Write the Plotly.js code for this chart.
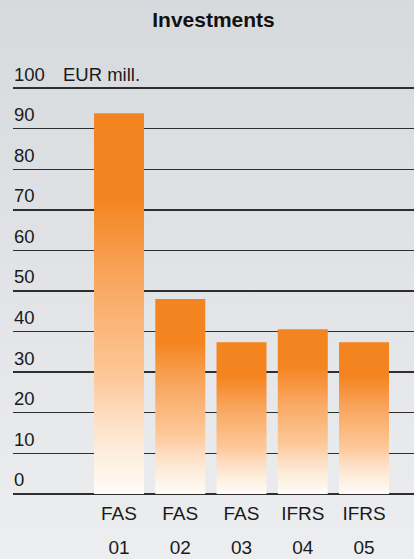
<!DOCTYPE html>
<html>
<head>
<meta charset="utf-8">
<script src="https://cdn.plot.ly/plotly-3.0.1.min.js"></script>
<style>
  html, body { margin: 0; padding: 0; }
  body { width: 414px; height: 559px; background: linear-gradient(to bottom, #d7dadd 0%, #e2e4e7 55%, #eceef0 100%); overflow: hidden; }
  #chart { width: 414px; height: 559px; }
</style>
</head>
<body>
<div id="chart"></div>
<script>
// Data
const categoryTop = ["FAS", "FAS", "FAS", "IFRS", "IFRS"];
const categoryBottom = ["01", "02", "03", "04", "05"];
const investments = [93.8, 48.0, 37.4, 40.6, 37.4];
const yTickValues = [0, 10, 20, 30, 40, 50, 60, 70, 80, 90, 100];
const yTickLabels = ["0", "10", "20", "30", "40", "50", "60", "70", "80", "90", "100"];
const unitLabel = "EUR mill.";
const chartTitle = "Investments";

const barHalf = 0.408;
const barScale = [
  [0, '#fffcf8'], [0.107, '#fdeedd'], [0.21, '#fddcc0'], [0.30, '#fdc99a'],
  [0.55, '#f9a862'], [0.78, '#f4841f'], [1, '#f4841f']
];

const traces = investments.map((v, i) => ({
  type: 'scatter',
  mode: 'lines',
  x: [i - barHalf, i + barHalf, i + barHalf, i - barHalf, i - barHalf],
  y: [0, 0, v, v, 0],
  fill: 'toself',
  line: { width: 0, color: 'rgba(0,0,0,0)' },
  fillgradient: { type: 'vertical', colorscale: barScale, start: 0, stop: v },
  hoverinfo: 'skip',
  showlegend: false
}));
// invisible carrier so the second category axis (year row) is drawn
traces.push({
  type: 'scatter', mode: 'none', xaxis: 'x2', yaxis: 'y',
  x: categoryBottom.map((_, i) => i), y: investments,
  hoverinfo: 'skip', showlegend: false
});

const font = { family: '"Liberation Sans", Arial, sans-serif', size: 19, color: '#1a1a1a' };
const yfont = { family: '"Liberation Sans", Arial, sans-serif', size: 18.5, color: '#1a1a1a' };
const xr = [-1.731, 4.816];
const last = yTickValues.length - 1;

const layout = {
  width: 414, height: 559,
  margin: { l: 13, r: 0, t: 86, b: 63 },
  paper_bgcolor: 'rgba(0,0,0,0)',
  plot_bgcolor: 'rgba(0,0,0,0)',
  title: {
    text: '<b>' + chartTitle + '</b>',
    font: { family: '"Liberation Sans", Arial, sans-serif', size: 21, color: '#111' },
    x: 0.5, xref: 'paper', xanchor: 'center',
    y: 1 - 19.5 / 559, yref: 'container', yanchor: 'middle'
  },
  xaxis: {
    range: xr, tickvals: [0, 1, 2, 3, 4], ticktext: categoryTop,
    showgrid: false, zeroline: false, showline: false, ticks: '',
    tickfont: font, ticklabelstandoff: 4, fixedrange: true
  },
  xaxis2: {
    overlaying: 'x', anchor: 'y', side: 'bottom',
    range: xr, tickvals: [0, 1, 2, 3, 4], ticktext: categoryBottom,
    showgrid: false, zeroline: false, showline: false, ticks: '',
    tickfont: font, ticklabelstandoff: 38, fixedrange: true
  },
  yaxis: {
    range: [-0.5, 100.5], tickvals: yTickValues, ticktext: yTickLabels,
    showgrid: true, gridcolor: '#2e2e2e', gridwidth: 1.4,
    zeroline: false, showline: false, ticks: '',
    ticklabelposition: 'inside', ticklabelshift: -14, ticklabelstandoff: -2,
    tickfont: yfont, fixedrange: true
  },
  annotations: [{
    text: yTickLabels[last], xref: 'paper', x: 0, xanchor: 'left', xshift: -1,
    yref: 'y', y: yTickValues[last], yanchor: 'middle', yshift: 14,
    showarrow: false, font: yfont
  }, {
    text: unitLabel, xref: 'paper', x: (61 - 13) / 401, xanchor: 'left',
    yref: 'y', y: yTickValues[last], yanchor: 'middle', yshift: 14,
    showarrow: false, font: yfont
  }]
};

Plotly.newPlot('chart', traces, layout, { staticPlot: true, displayModeBar: false });
</script>
</body>
</html>
